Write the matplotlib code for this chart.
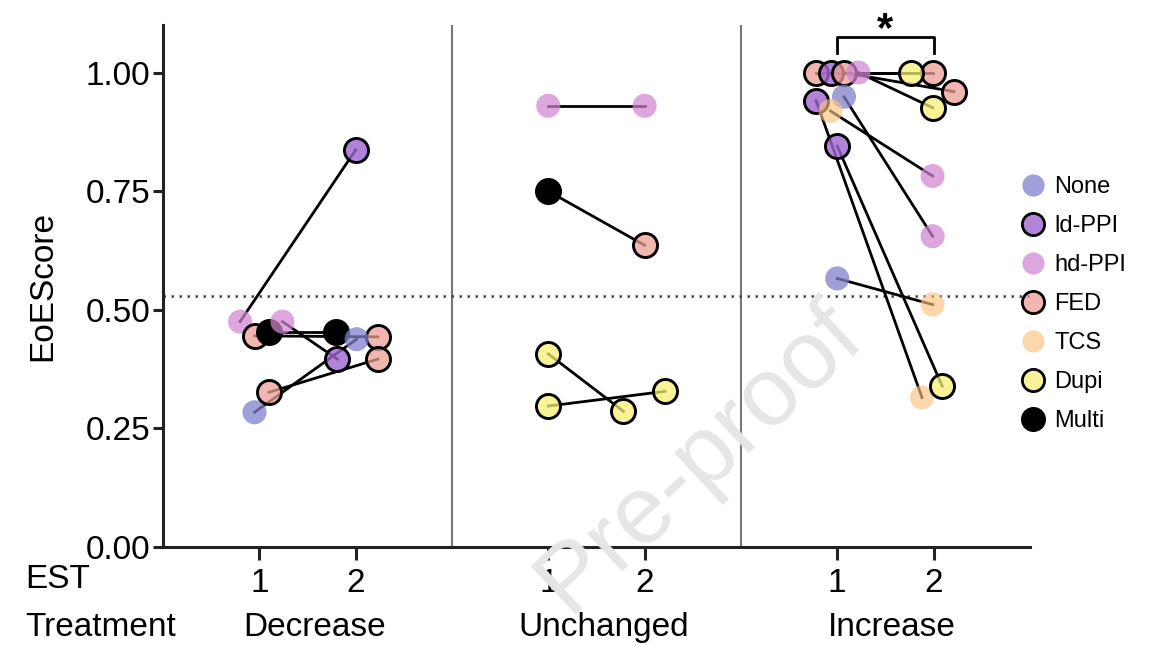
import matplotlib
matplotlib.use("Agg")
import matplotlib.pyplot as plt
from matplotlib.lines import Line2D

plt.rcParams['font.family'] = ['Liberation Sans', 'DejaVu Sans']

# ---------------- data ----------------
groups = ["Decrease", "Unchanged", "Increase"]
group_base = [1, 4, 7]          # x position of EST 1 in each group
est_ticks = ["1", "2"]
treatments = ["None", "ld-PPI", "hd-PPI", "FED", "TCS", "Dupi", "Multi"]

# each patient: group index, EST1 score, EST1 treatment, EST2 score, EST2 treatment
pair_group = [0, 0, 0, 0, 0, 0,
              1, 1, 1, 1,
              2, 2, 2, 2, 2, 2, 2, 2, 2]
est1_score = [0.475, 0.445, 0.453, 0.475, 0.284, 0.326,
              0.930, 0.750, 0.407, 0.297,
              1.000, 1.000, 1.000, 1.000, 0.941, 0.949, 0.919, 0.845, 0.566]
est1_treat = ["hd-PPI", "FED", "Multi", "hd-PPI", "None", "FED",
              "hd-PPI", "Multi", "Dupi", "Dupi",
              "FED", "ld-PPI", "FED", "hd-PPI", "ld-PPI", "None", "TCS", "ld-PPI", "None"]
est2_score = [0.837, 0.443, 0.453, 0.396, 0.438, 0.396,
              0.930, 0.636, 0.286, 0.328,
              1.000, 1.000, 0.960, 0.926, 0.315, 0.655, 0.782, 0.339, 0.511]
est2_treat = ["ld-PPI", "FED", "Multi", "ld-PPI", "None", "FED",
              "hd-PPI", "FED", "Dupi", "Dupi",
              "FED", "Dupi", "FED", "Dupi", "TCS", "hd-PPI", "hd-PPI", "Dupi", "TCS"]
# horizontal jitter (in x units) of each point
est1_jitter = [-0.20, -0.05, 0.10, 0.24, -0.05, 0.10,
               0.0, 0.0, 0.0, 0.0,
               -0.22, -0.07, 0.07, 0.22, -0.22, 0.07, -0.07, 0.0, 0.0]
est2_jitter = [0.0, 0.23, -0.20, -0.19, 0.01, 0.23,
               0.0, 0.0, -0.22, 0.21,
               -0.01, -0.23, 0.21, -0.01, -0.12, -0.01, -0.01, 0.09, -0.01]

threshold = 0.53
yticks = [0.00, 0.25, 0.50, 0.75, 1.00]

# ---------------- styles ----------------
face = {
    "None":   (0.50, 0.50, 0.80, 0.75),
    "ld-PPI": (0.62, 0.40, 0.82, 0.80),
    "hd-PPI": (0.82, 0.52, 0.82, 0.72),
    "FED":    (0.93, 0.62, 0.58, 0.75),
    "TCS":    (0.98, 0.76, 0.50, 0.65),
    "Dupi":   (0.96, 0.94, 0.45, 0.75),
    "Multi":  (0.0, 0.0, 0.0, 1.0),
}
edged = {"None": False, "ld-PPI": True, "hd-PPI": False, "FED": True,
         "TCS": False, "Dupi": True, "Multi": True}

FS = 24

fig = plt.figure(figsize=(11.52, 6.45), dpi=100)
ax = fig.add_axes([0.1415, 0.152, 0.894 - 0.1415, 0.961 - 0.152])

# watermark
fig.text(0.607, 0.29, "Pre-proof", fontsize=70, color="#e6e6e6", rotation=43,
         ha="center", va="center", zorder=0)

ax.set_xlim(0, 9)
ax.set_ylim(0, 1.1)
ax.patch.set_alpha(0)

# separators and threshold
for xs in [3, 6]:
    ax.axvline(xs, color="#777777", lw=1.5, zorder=1)
ax.axhline(threshold, color="#444444", lw=1.8, ls=(0, (1, 2.2)), zorder=1, clip_on=False)

ms = 300
for i in range(len(pair_group)):
    b = group_base[pair_group[i]]
    x1 = b + est1_jitter[i]
    x2 = b + 1 + est2_jitter[i]
    ax.plot([x1, x2], [est1_score[i], est2_score[i]], color="black", lw=2.0, zorder=2)
    for x, y, t in [(x1, est1_score[i], est1_treat[i]), (x2, est2_score[i], est2_treat[i])]:
        ax.scatter([x], [y], s=ms, facecolor=[face[t]],
                   edgecolor="black" if edged[t] else "none",
                   linewidth=2.1 if edged[t] else 0, zorder=3)

# significance bracket
b = group_base[2]
ax.plot([b, b, b + 1, b + 1], [1.042, 1.076, 1.076, 1.042], color="black", lw=2.0,
        clip_on=False, zorder=4)
ax.text(b + 0.5, 1.066, "*", ha="center", va="baseline", fontsize=30,
        fontweight="bold", clip_on=False)

# axes styling
for s in ["top", "right"]:
    ax.spines[s].set_visible(False)
for s in ["left", "bottom"]:
    ax.spines[s].set_linewidth(2.2)
    ax.spines[s].set_color("#222222")

ax.set_yticks(yticks)
ax.set_yticklabels([f"{v:.2f}" for v in yticks])
xt = []
xl = []
for b in group_base:
    xt += [b, b + 1]
    xl += est_ticks
ax.set_xticks(xt)
ax.set_xticklabels(xl)
ax.tick_params(axis="both", labelsize=FS, width=2.2, length=9, color="#222222")
ax.tick_params(axis="y", pad=2, length=7)
ax.tick_params(axis="x", pad=6)
ax.set_ylabel("EoEScore", fontsize=FS, labelpad=20)

# bottom row labels
fig.text(25 / 1152, 1 - 580 / 645, "EST", fontsize=FS, ha="left", va="center")
fig.text(25 / 1152, 1 - 628 / 645, "Treatment", fontsize=FS, ha="left", va="center")
for g, b in zip(groups, group_base):
    ax.text(b + 0.57, -0.155, g, transform=ax.get_xaxis_transform(), fontsize=FS,
            ha="center", va="center")

# legend
handles = []
for t in treatments:
    handles.append(Line2D([], [], marker="o", ls="none", markersize=16,
                          markerfacecolor=face[t],
                          markeredgecolor="black" if edged[t] else "none",
                          markeredgewidth=2.0 if edged[t] else 0, label=t))
fig.legend(handles=handles, loc="center left", bbox_to_anchor=(0.866, 0.529),
           frameon=False, fontsize=17, labelspacing=0.72, handletextpad=0.3,
           handlelength=1.2)

fig.savefig("out.png", dpi=100)
